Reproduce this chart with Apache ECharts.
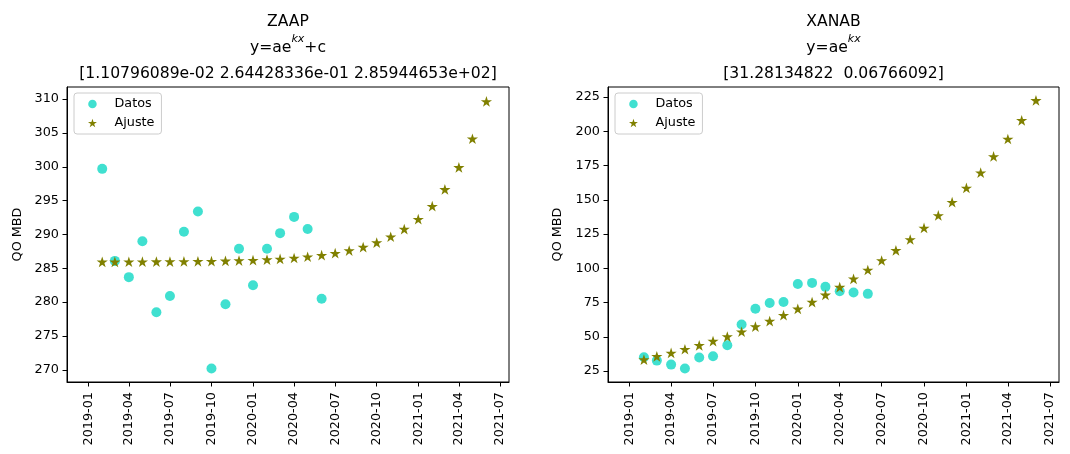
<!DOCTYPE html>
<html><head><meta charset="utf-8">
<script src="https://cdn.jsdelivr.net/npm/echarts@6/dist/echarts.min.js"></script>
<style>html,body{margin:0;padding:0;background:#fff}#c{width:1070px;height:454px}</style>
</head><body><div id="c"></div>
<script>
// ---- data ----
const months = ['2019-02','2019-03','2019-04','2019-05','2019-06','2019-07','2019-08','2019-09','2019-10','2019-11','2019-12',
  '2020-01','2020-02','2020-03','2020-04','2020-05','2020-06','2020-07','2020-08','2020-09','2020-10','2020-11','2020-12',
  '2021-01','2021-02','2021-03','2021-04','2021-05','2021-06'];
const datosMonths = ['2019-02','2019-03','2019-04','2019-05','2019-06','2019-07','2019-08','2019-09','2019-10','2019-11','2019-12',
  '2020-01','2020-02','2020-03','2020-04','2020-05','2020-06'];
const xTicks = ['2019-01','2019-04','2019-07','2019-10','2020-01','2020-04','2020-07','2020-10','2021-01','2021-04','2021-07'];

const zaapDatos = [299.7, 286.1, 283.7, 289.0, 278.5, 280.9, 290.4, 293.4, 270.2, 279.7, 287.9, 282.5, 287.9, 290.2, 292.6, 290.8, 280.5];
const zaapAjuste = [285.96, 285.96, 285.97, 285.98, 285.99, 286.00, 286.02, 286.04, 286.06, 286.10, 286.15, 286.21, 286.29, 286.39,
  286.53, 286.71, 286.94, 287.24, 287.63, 288.14, 288.81, 289.67, 290.80, 292.27, 294.18, 296.67, 299.92, 304.15, 309.67];
const xanabDatos = [35.2, 32.7, 29.8, 27.0, 35.0, 35.9, 43.9, 59.0, 70.6, 74.7, 75.5, 88.6, 89.4, 86.5, 83.3, 82.4, 81.4];
const xanabAjuste = [33.47, 35.81, 38.32, 41.00, 43.87, 46.95, 50.23, 53.75, 57.51, 61.54, 65.84, 70.45, 75.38, 80.66,
  86.31, 92.35, 98.81, 105.73, 113.13, 121.05, 129.52, 138.59, 148.29, 158.67, 169.78, 181.66, 194.38, 207.98, 222.54];

const zaapYTicks = [270, 275, 280, 285, 290, 295, 300, 305, 310];
const xanabYTicks = [25, 50, 75, 100, 125, 150, 175, 200, 225];

const titles = [
  {name: 'ZAAP', eq: '{b|y=ae}{s|kx}{b|+c}', params: '[1.10796089e-02 2.64428336e-01 2.85944653e+02]'},
  {name: 'XANAB', eq: '{b|y=ae}{s|kx}', params: '[31.28134822  0.06766092]'}
];

// ---- helpers ----
const FONT = 'DejaVu Sans';
const toTs = s => Date.UTC(+s.slice(0, 4), +s.slice(5, 7) - 1, 1);
const fmt = v => { const d = new Date(v); return d.getUTCFullYear() + '-' + String(d.getUTCMonth() + 1).padStart(2, '0'); };
const pair = (ms, vals) => vals.map((v, i) => [toTs(ms[i]), v]);
const STAR = 'path://M100,0L122.45,69.1L195.1,69.1L136.3,111.8L158.8,180.9L100,138.2L41.2,180.9L63.7,111.8L4.9,69.1L77.55,69.1Z';
const CYAN = '#40E0D0', OLIVE = '#808000';
const xTickTs = xTicks.map(toTs);

const grids = [
  {left: 67, right: 561, top: 87, bottom: 72},
  {left: 608, right: 11, top: 87, bottom: 72}
];
const centers = [288, 833.5];
const yRanges = [[268.2, 311.8], [17.1, 232.3]];
const yTicks = [zaapYTicks, xanabYTicks];

const titleOpts = [];
titles.forEach((t, i) => {
  const base = {left: centers[i], textAlign: 'center', padding: 0};
  titleOpts.push(Object.assign({}, base, {top: 14, text: t.name,
    textStyle: {fontFamily: FONT, fontSize: 15.6, fontWeight: 'normal', color: '#000'}}));
  titleOpts.push(Object.assign({}, base, {top: 34, text: t.eq,
    textStyle: {fontFamily: FONT, fontSize: 15.6, fontWeight: 'normal', color: '#000',
      rich: {b: {fontFamily: FONT, fontSize: 15.6, color: '#000'},
             s: {fontFamily: FONT, fontSize: 11, fontStyle: 'italic', color: '#000', padding: [0, 0, 16, 0]}}}}));
  titleOpts.push(Object.assign({}, base, {top: 65.5, text: t.params,
    textStyle: {fontFamily: FONT, fontSize: 15.6, fontWeight: 'normal', color: '#000'}}));
});

const xAxes = grids.map((g, i) => ({
  type: 'value', gridIndex: i, min: Date.UTC(2018, 10, 15), max: Date.UTC(2021, 6, 21),
  axisLine: {onZero: false, lineStyle: {color: '#000', width: 1}},
  axisTick: {customValues: xTickTs, length: 4.5, lineStyle: {color: '#000'}},
  axisLabel: {customValues: xTickTs, formatter: fmt, rotate: 90, margin: 10,
    fontFamily: FONT, fontSize: 12.8, color: '#000'},
  splitLine: {show: false}
}));
const yAxes = grids.map((g, i) => ({
  type: 'value', gridIndex: i, min: yRanges[i][0], max: yRanges[i][1],
  name: 'QO MBD', nameLocation: 'middle', nameGap: i === 0 ? 43 : 44,
  nameTextStyle: {fontFamily: FONT, fontSize: 12.8, color: '#000'},
  axisLine: {show: true, onZero: false, lineStyle: {color: '#000', width: 1}},
  axisTick: {show: true, customValues: yTicks[i], length: 4.5, lineStyle: {color: '#000'}},
  axisLabel: {customValues: yTicks[i], margin: 8, fontFamily: FONT, fontSize: 12.8, color: '#000'},
  splitLine: {show: false}
}));

const legendOpts = [74, 615].map(x => ({
  orient: 'vertical', left: x, top: 93, padding: [4.5, 7, 4.5, 14], itemGap: 6,
  itemWidth: 20, itemHeight: 8.5,
  backgroundColor: 'rgba(255,255,255,0.8)', borderColor: '#cccccc', borderWidth: 1, borderRadius: 3,
  textStyle: {fontFamily: FONT, fontSize: 12.8, color: '#000', padding: [0, 0, 0, 7]},
  data: [{name: 'Datos', icon: 'circle'}, {name: 'Ajuste', icon: STAR}],
  selectedMode: false
}));

const series = [];
[[zaapDatos, zaapAjuste], [xanabDatos, xanabAjuste]].forEach((d, i) => {
  series.push({name: 'Datos', type: 'scatter', xAxisIndex: i, yAxisIndex: i,
    data: pair(datosMonths, d[0]), symbol: 'circle', symbolSize: 10, itemStyle: {color: CYAN, opacity: 1}, z: 2});
  series.push({name: 'Ajuste', type: 'scatter', xAxisIndex: i, yAxisIndex: i,
    data: pair(months, d[1]), symbol: STAR, symbolSize: [11.2, 10.7], itemStyle: {color: OLIVE, opacity: 1}, z: 3});
});

const chart = echarts.init(document.getElementById('c'), null, {renderer: 'canvas'});
chart.setOption({
  animation: false,
  backgroundColor: '#fff',
  title: titleOpts,
  grid: grids.map(g => Object.assign({show: true, borderColor: '#000', borderWidth: 1, backgroundColor: 'transparent'}, g)),
  xAxis: xAxes,
  yAxis: yAxes,
  legend: legendOpts,
  series: series
});
</script></body></html>
